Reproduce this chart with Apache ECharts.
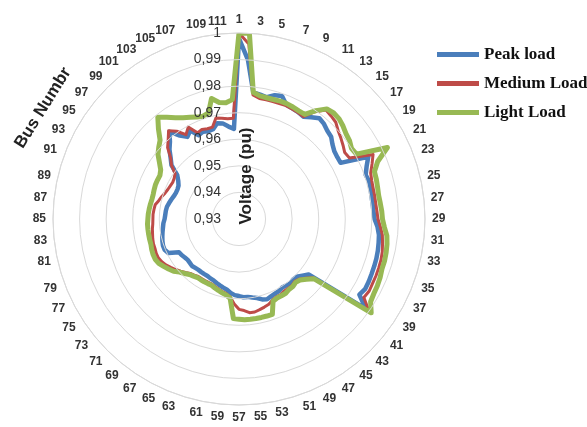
<!DOCTYPE html>
<html><head><meta charset="utf-8">
<script src="https://cdn.jsdelivr.net/npm/echarts@6/dist/echarts.min.js"></script>
<style>html,body{margin:0;padding:0;background:#fff}#c{width:587px;height:427px}</style>
</head><body><div id="c"></div>
<script>
const busNumbers = [];
for (let b = 1; b <= 112; b++) busNumbers.push(b);

const radialTicks = [0.93, 0.94, 0.95, 0.96, 0.97, 0.98, 0.99, 1];

const peakLoad = [
0.998,0.990,0.978,0.9775,0.977,0.9785,0.979,0.9765,0.9762,0.976,
0.9755,0.977,0.9785,0.978,0.977,0.9765,0.975,0.974,0.9737,0.9737,
0.984,0.982,0.9805,0.981,0.9808,0.9806,0.9806,0.9807,0.981,0.9822,
0.983,0.9833,0.9836,0.9838,0.9839,0.984,0.9842,0.9843,0.9835,0.9885,
0.9635,0.962,0.9607,0.9605,0.961,0.9607,0.9605,0.961,0.9612,0.9615,
0.962,0.9615,0.9605,0.960,0.9595,0.9595,0.959,0.9587,0.958,0.957,
0.9565,0.956,0.9555,0.955,0.9548,0.9545,0.9545,0.9545,0.9545,0.9547,
0.955,0.9548,0.9547,0.955,0.9555,0.9558,0.9595,0.9603,0.9603,0.960,
0.9596,0.9592,0.9588,0.9585,0.958,0.9578,0.9577,0.9575,0.957,0.9565,
0.956,0.9557,0.9557,0.956,0.957,0.9585,0.9625,0.9645,0.967,0.969,
0.972,0.9685,0.9665,0.968,0.965,0.9655,0.965,0.9652,0.967,0.9665,
0.965,0.964
];

const mediumLoad = [
1.0,0.996,0.977,0.976,0.976,0.976,0.976,0.9762,0.976,0.9758,
0.9755,0.9795,0.9825,0.982,0.9815,0.980,0.979,0.978,0.977,0.9775,
0.986,0.9842,0.9825,0.982,0.9818,0.9818,0.9818,0.982,0.9823,0.9833,
0.9843,0.9848,0.9853,0.9856,0.9857,0.9858,0.9858,0.986,0.9855,0.990,
0.9655,0.9635,0.962,0.9615,0.962,0.962,0.962,0.9625,0.9625,0.963,
0.964,0.9645,0.965,0.9655,0.9655,0.9645,0.964,0.962,0.9595,0.9585,
0.958,0.9575,0.957,0.9565,0.9565,0.9565,0.9565,0.9565,0.957,0.9575,
0.9585,0.9595,0.9605,0.9615,0.9625,0.9632,0.9637,0.9637,0.9635,0.9635,
0.9633,0.963,0.9628,0.9625,0.9624,0.9624,0.9622,0.962,0.961,0.9603,
0.9595,0.959,0.9587,0.9585,0.9588,0.9595,0.9625,0.9645,0.968,0.970,
0.9725,0.9705,0.9675,0.9695,0.966,0.9665,0.966,0.966,0.969,0.9685,
0.968,0.968
];

const lightLoad = [
1.0,1.0,0.978,0.977,0.9768,0.9768,0.977,0.977,0.9768,0.9765,
0.9765,0.980,0.983,0.9835,0.9833,0.9825,0.9815,0.981,0.980,0.9805,
0.992,0.9865,0.984,0.9838,0.9835,0.9833,0.9835,0.9838,0.984,0.9848,
0.986,0.9865,0.9868,0.987,0.987,0.9875,0.9878,0.988,0.9885,0.991,
0.966,0.964,0.9625,0.962,0.9625,0.9625,0.963,0.963,0.963,0.9635,
0.968,0.968,0.968,0.968,0.968,0.968,0.9677,0.9675,0.960,0.959,
0.9585,0.958,0.9575,0.957,0.957,0.957,0.957,0.957,0.9575,0.958,
0.959,0.960,0.9615,0.9625,0.9635,0.9645,0.965,0.965,0.9648,0.9645,
0.9645,0.9645,0.9645,0.9645,0.9643,0.9642,0.964,0.9638,0.9636,0.9636,
0.9638,0.964,0.964,0.964,0.9648,0.9667,0.969,0.9705,0.972,0.9755,
0.979,0.977,0.975,0.9735,0.9725,0.9715,0.971,0.9715,0.9765,0.9745,
0.974,0.975
];

const seriesNames = ['Peak load', 'Medium Load', 'Light Load'];
const seriesColors = ['#4A7EBB', '#BE4B48', '#98B954'];
const seriesWidths = [4.5, 3, 5];
const seriesValues = [peakLoad, mediumLoad, lightLoad];

const N = busNumbers.length;
function toPolar(vals) {
  const d = vals.map((v, i) => [v, i]);
  d.push([vals[0], N]);
  return d;
}

const chart = echarts.init(document.getElementById('c'), null, {renderer: 'canvas'});
chart.setOption({
  animation: false,
  backgroundColor: '#fff',
  polar: { center: [239, 219], radius: 186 },
  angleAxis: {
    type: 'value', min: 0, max: N, interval: 1,
    startAngle: 90, clockwise: true,
    axisLine: { show: true, lineStyle: { color: '#d9d9d9', width: 1 } },
    axisTick: { show: false },
    splitLine: { show: false },
    axisLabel: {
      margin: 7,
      fontFamily: 'Liberation Sans', fontSize: 12, fontWeight: 'bold', color: '#333',
      formatter: function (v) {
        const i = Math.round(v);
        if (i >= N || i % 2 !== 0) return '';
        return String(busNumbers[i]);
      }
    }
  },
  radiusAxis: {
    type: 'value', min: radialTicks[0], max: radialTicks[radialTicks.length - 1], interval: 0.01,
    axisLine: { show: false }, axisTick: { show: false },
    splitLine: { show: true, lineStyle: { color: '#d9d9d9', width: 1 } },
    axisLabel: {
      margin: 18,
      fontFamily: 'Liberation Sans', fontSize: 14, color: '#333',
      formatter: function (v) {
        const r = Math.round(v * 100) / 100;
        return r === 1 ? '1' : r.toFixed(2).replace('.', ',');
      }
    },
    z: 5
  },
  legend: {
    orient: 'vertical', left: 432, top: 41, itemWidth: 42, itemHeight: 5, itemGap: 12,
    icon: 'rect',
    textStyle: { fontFamily: 'Liberation Serif', fontWeight: 'bold', fontSize: 17, color: '#111' },
    data: seriesNames
  },
  series: seriesValues.map((vals, k) => ({
    type: 'line', coordinateSystem: 'polar', name: seriesNames[k],
    data: toPolar(vals), showSymbol: false, symbol: 'none',
    lineStyle: { color: seriesColors[k], width: seriesWidths[k], join: 'round' },
    itemStyle: { color: seriesColors[k] },
    z: 2 + k
  })),
  graphic: [
    { type: 'text', x: 43, y: 108, rotation: 58 * Math.PI / 180,
      style: { text: 'Bus Numbr', fontFamily: 'Liberation Sans', fontWeight: 'bold', fontSize: 17,
               fill: '#222', textAlign: 'center', textVerticalAlign: 'middle' } },
    { type: 'text', x: 246, y: 176, rotation: Math.PI / 2, z: 10,
      style: { text: 'Voltage (pu)', fontFamily: 'Liberation Sans', fontWeight: 'bold', fontSize: 17,
               fill: '#222', textAlign: 'center', textVerticalAlign: 'middle' } }
  ]
});
</script></body></html>
